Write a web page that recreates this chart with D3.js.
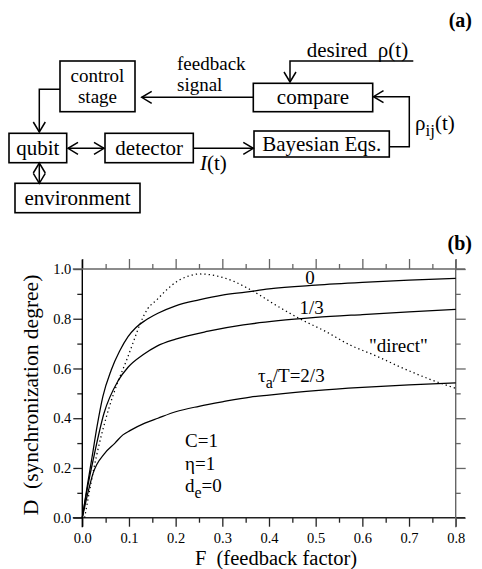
<!DOCTYPE html>
<html>
<head>
<meta charset="utf-8">
<script src="https://cdn.jsdelivr.net/npm/d3@7"></script>
<style>
  body { margin: 0; background: #fff; }
</style>
</head>
<body>
<div id="chart"></div>
<script>
// ---- data ----
const curveZero = [[0,0],[0.01,0.12],[0.021,0.245],[0.0315,0.366],[0.044,0.487],[0.062,0.594],[0.08,0.67],
  [0.098,0.728],[0.115,0.765],[0.134,0.792],[0.162,0.822],[0.2,0.852],[0.25,0.876],[0.3,0.895],[0.35,0.907],
  [0.4,0.92],[0.5,0.935],[0.6,0.946],[0.7,0.955],[0.8,0.962]];
const curveThird = [[0,0],[0.01,0.11],[0.023,0.23],[0.0465,0.42],[0.0765,0.55],[0.098,0.605],[0.13,0.655],
  [0.16,0.69],[0.2,0.718],[0.27,0.75],[0.345,0.775],[0.42,0.792],[0.5,0.805],[0.6,0.817],[0.7,0.828],[0.8,0.838]];
const curveTwoThirds = [[0,0],[0.012,0.1],[0.023,0.178],[0.048,0.259],[0.07,0.30],[0.087,0.333],[0.102,0.35],
  [0.134,0.38],[0.162,0.40],[0.2,0.426],[0.25,0.448],[0.3,0.466],[0.36,0.485],[0.4,0.493],[0.5,0.511],
  [0.6,0.524],[0.7,0.534],[0.8,0.542]];
const curveDirect = [[0.005,0],[0.03,0.245],[0.057,0.44],[0.075,0.54],[0.095,0.634],[0.112,0.72],[0.124,0.78],
  [0.14,0.84],[0.159,0.875],[0.18,0.915],[0.202,0.949],[0.225,0.97],[0.25,0.98],[0.27,0.978],[0.295,0.969],
  [0.325,0.95],[0.352,0.925],[0.38,0.895],[0.41,0.86],[0.466,0.80],[0.52,0.75],[0.573,0.695],[0.63,0.65],
  [0.68,0.607],[0.74,0.56],[0.8,0.52]];

const xMajor = [0, 0.1, 0.2, 0.3, 0.4, 0.5, 0.6, 0.7, 0.8];
const xMinor = [0.05, 0.15, 0.25, 0.35, 0.45, 0.55, 0.65, 0.75];
const yMajor = [0, 0.2, 0.4, 0.6, 0.8, 1.0];
const yMinor = [0.1, 0.3, 0.5, 0.7, 0.9];

// block diagram (panel a)
const boxes = [
  { x: 60,  y: 61,    w: 75,    h: 50.7, lines: ["control", "stage"] },
  { x: 253.3, y: 83.3, w: 119.4, h: 28.4, lines: ["compare"] },
  { x: 9,   y: 133.3, w: 57.7,  h: 29.4, lines: ["qubit"] },
  { x: 105, y: 133.3, w: 88.3,  h: 29.4, lines: ["detector"] },
  { x: 254, y: 131,   w: 135.3, h: 26,   lines: ["Bayesian Eqs."] },
  { x: 15,  y: 183.3, w: 125,   h: 29.4, lines: ["environment"] }
];
// polylines; heads: which ends get an open arrow head
const wires = [
  { pts: [[413.3,61],[290,61],[290,82]], heads: ["end"] },
  { pts: [[253.3,97.3],[141.7,97.3]], heads: ["end"] },
  { pts: [[389.3,146.7],[409.3,146.7],[409.3,96.7],[373.5,96.7]], heads: ["end"] },
  { pts: [[60,89.3],[39.3,89.3],[39.3,132]], heads: ["end"] },
  { pts: [[68,148.3],[104,148.3]], heads: ["start","end"] },
  { pts: [[193.3,148.3],[253.3,148.3]], heads: ["end"] },
  { pts: [[39.3,163],[39.3,183.3]], heads: ["start","end"] }
];

const width = 482, height = 569;
const svg = d3.select("#chart").append("svg")
  .attr("width", width).attr("height", height)
  .attr("viewBox", `0 0 ${width} ${height}`);

// ---- panel (a) ----
const diag = svg.append("g").attr("class", "diagram");
const dfont = 21;

boxes.forEach(b => {
  diag.append("rect")
    .attr("x", b.x).attr("y", b.y).attr("width", b.w).attr("height", b.h)
    .attr("fill", "none").attr("stroke", "#000").attr("stroke-width", 1.6);
  const n = b.lines.length;
  b.lines.forEach((t, i) => {
    diag.append("text")
      .attr("x", b.x + b.w / 2)
      .attr("y", b.y + b.h / 2 + (i - (n - 1) / 2) * 21.5)
      .attr("dy", "0.33em")
      .attr("text-anchor", "middle")
      .attr("font-size", n > 1 ? 19 : dfont)
      .text(t);
  });
});

const arrowHead = (tip, from) => {
  const dx = tip[0] - from[0], dy = tip[1] - from[1];
  const L = Math.hypot(dx, dy), ux = dx / L, uy = dy / L;
  const len = 10, w = 6;
  const bx = tip[0] - ux * len, by = tip[1] - uy * len;
  return `M${bx - uy * w},${by + ux * w}L${tip[0]},${tip[1]}L${bx + uy * w},${by - ux * w}`;
};

wires.forEach(wr => {
  diag.append("path")
    .attr("d", d3.line()(wr.pts))
    .attr("fill", "none").attr("stroke", "#000").attr("stroke-width", 1.5);
  const p = wr.pts;
  wr.heads.forEach(h => {
    const d = h === "end" ? arrowHead(p[p.length - 1], p[p.length - 2]) : arrowHead(p[0], p[1]);
    diag.append("path").attr("d", d)
      .attr("fill", "none").attr("stroke", "#000").attr("stroke-width", 1.5);
  });
});

diag.append("text").attr("x", 306.7).attr("y", 57).attr("font-size", dfont).text("desired  ρ(t)");
diag.append("text").attr("x", 177).attr("y", 69.5).attr("font-size", 19).text("feedback");
diag.append("text").attr("x", 177).attr("y", 91).attr("font-size", 19).text("signal");
const rho = diag.append("text").attr("x", 415).attr("y", 129.5).attr("font-size", dfont);
rho.append("tspan").text("ρ");
rho.append("tspan").attr("dy", 6).attr("font-size", 17).text("ij");
rho.append("tspan").attr("dy", -6).text("(t)");
const it = diag.append("text").attr("x", 200).attr("y", 169.5).attr("font-size", dfont);
it.append("tspan").attr("font-style", "italic").text("I");
it.append("tspan").text("(t)");

svg.append("text").attr("x", 472).attr("y", 27).attr("text-anchor", "end")
  .attr("font-size", 20).attr("font-weight", "bold").text("(a)");
svg.append("text").attr("x", 472).attr("y", 250).attr("text-anchor", "end")
  .attr("font-size", 20).attr("font-weight", "bold").text("(b)");

// ---- panel (b) ----
const xScale = d3.scaleLinear().domain([0, 0.8]).range([82.3, 455.7]);
const yScale = d3.scaleLinear().domain([0, 1]).range([517.7, 269]);
const [x0, x1] = xScale.range();
const [yb, yt] = yScale.range();
const ext = 9.5;

const plot = svg.append("g").attr("class", "plot");
const axisColor = "#222", axisColor2 = "#666";

const addAxis = (axis, tr, color, labels) => {
  const g = plot.append("g").attr("transform", tr).call(axis).attr("font-size", 14.5);
  g.select(".domain").remove();
  g.selectAll(".tick line").attr("stroke", color).attr("stroke-width", 1.3);
  g.selectAll(".tick text").attr("fill", "#000");
  if (!labels) g.selectAll(".tick text").remove();
  return g;
};

addAxis(d3.axisBottom(xScale).tickValues(xMajor).tickSize(9).tickPadding(6).tickFormat(d3.format(".1f")),
  `translate(0,${yb})`, axisColor, true);
addAxis(d3.axisBottom(xScale).tickValues(xMinor).tickSize(5), `translate(0,${yb})`, axisColor, false);
addAxis(d3.axisLeft(yScale).tickValues(yMajor).tickSize(9).tickPadding(2).tickFormat(d3.format(".1f")),
  `translate(${x0},0)`, axisColor, true);
addAxis(d3.axisLeft(yScale).tickValues(yMinor).tickSize(5), `translate(${x0},0)`, axisColor, false);
addAxis(d3.axisTop(xScale).tickValues(xMajor).tickSize(10), `translate(0,${yt})`, axisColor2, false);
addAxis(d3.axisTop(xScale).tickValues(xMinor).tickSize(5), `translate(0,${yt})`, axisColor2, false);
addAxis(d3.axisRight(yScale).tickValues(yMajor).tickSize(10), `translate(${x1},0)`, axisColor2, false);
addAxis(d3.axisRight(yScale).tickValues(yMinor).tickSize(5), `translate(${x1},0)`, axisColor2, false);

// frame lines extend a little beyond the plot corners
const frame = [
  { a: [x0 - ext, yb], b: [x1 + ext, yb], c: axisColor },
  { a: [x0, yb + ext], b: [x0, yt - ext], c: "#000" },
  { a: [x0 - ext, yt], b: [x1 + ext, yt], c: axisColor2 },
  { a: [x1, yb + ext], b: [x1, yt - ext], c: axisColor2 }
];
plot.selectAll("line.frame").data(frame).join("line")
  .attr("class", "frame")
  .attr("x1", d => d.a[0]).attr("y1", d => d.a[1])
  .attr("x2", d => d.b[0]).attr("y2", d => d.b[1])
  .attr("stroke", d => d.c).attr("stroke-width", 1.4);

const line = d3.line()
  .x(d => xScale(d[0])).y(d => yScale(d[1]))
  .curve(d3.curveMonotoneX);

const series = [
  { data: curveZero, dash: null },
  { data: curveThird, dash: null },
  { data: curveTwoThirds, dash: null },
  { data: curveDirect, dash: "1.3,3" }
];
plot.append("g").selectAll("path").data(series).join("path")
  .attr("d", d => line(d.data))
  .attr("fill", "none").attr("stroke", "#000")
  .attr("stroke-width", 1.25)
  .attr("stroke-dasharray", d => d.dash);

// curve annotations
const lab = plot.append("g").attr("font-size", 19);
lab.append("text").attr("x", 310).attr("y", 283.5).attr("text-anchor", "middle").text("0");
lab.append("text").attr("x", 311.7).attr("y", 314).attr("text-anchor", "middle").text("1/3");
lab.append("text").attr("x", 398.3).attr("y", 352).attr("text-anchor", "middle").text("\"direct\"");
const tau = lab.append("text").attr("x", 258).attr("y", 381.5);
tau.append("tspan").text("τ");
tau.append("tspan").attr("dy", 6).attr("font-size", 16).text("a");
tau.append("tspan").attr("dy", -6).text("/T=2/3");
lab.append("text").attr("x", 185).attr("y", 446.7).text("C=1");
lab.append("text").attr("x", 185).attr("y", 469.5).text("η=1");
const de = lab.append("text").attr("x", 185).attr("y", 491.5);
de.append("tspan").text("d");
de.append("tspan").attr("dy", 6).attr("font-size", 16).text("e");
de.append("tspan").attr("dy", -6).text("=0");

// axis titles
svg.append("text")
  .attr("x", 276).attr("y", 565)
  .attr("text-anchor", "middle").attr("font-size", 20.5)
  .text("F  (feedback factor)");
svg.append("text")
  .attr("transform", "translate(37.5,395) rotate(-90)")
  .attr("text-anchor", "middle").attr("font-size", 21.5)
  .text("D  (synchronization degree)");

// one serif face for every text, set on the element itself
svg.selectAll("text, tspan")
  .style("font-family", '"Liberation Serif", serif')
  .style("white-space", "pre");
</script>
</body>
</html>
